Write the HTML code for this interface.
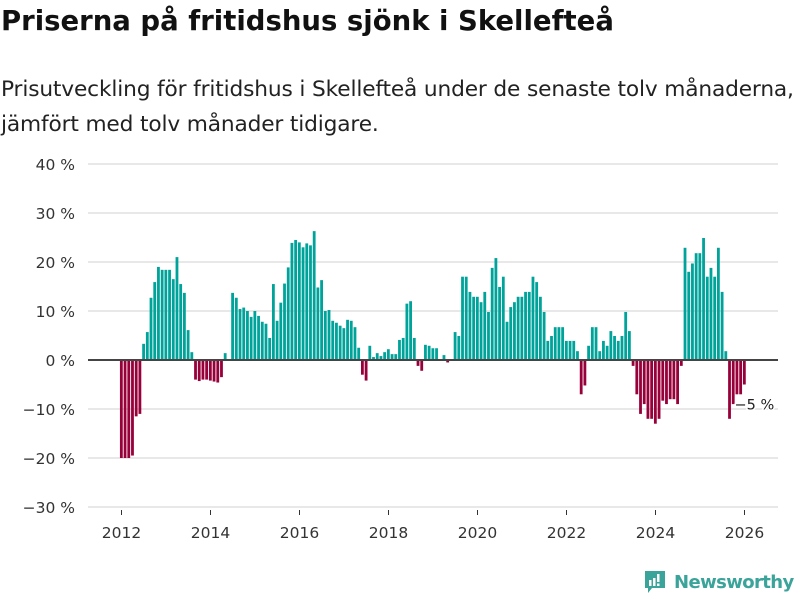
<!DOCTYPE html>
<html><head><meta charset="utf-8"><style>
body{margin:0;width:800px;height:600px;background:#fff;font-family:"DejaVu Sans","Liberation Sans",sans-serif;overflow:hidden;position:relative}
h1{position:absolute;left:1px;top:5px;margin:0;font-size:27.5px;font-weight:bold;color:#111;white-space:nowrap}
.sub{position:absolute;left:1px;top:72px;margin:0;font-size:21.7px;line-height:35px;color:#222;white-space:nowrap;letter-spacing:-0.15px}
svg{position:absolute;left:0;top:0}
</style></head><body>
<h1>Priserna på fritidshus sjönk i Skellefteå</h1>
<p class="sub">Prisutveckling för fritidshus i Skellefteå under de senaste tolv månaderna,<br>jämfört med tolv månader tidigare.</p>
<svg id="chart" width="800" height="600"></svg>
<script>
const startYear = 2012;
const values = [-20,-20,-20,-19.5,-11.5,-11,
3.3,5.7,12.7,15.9,19,18.4,18.4,18.4,16.5,21,15.5,13.7,6.1,1.6,
-4,-4.3,-4,-4,-4.2,-4.4,-4.6,-3.5,1.4,0.2,
13.7,12.7,10.4,10.7,10,8.8,10,9,7.8,7.4,4.5,15.5,8,11.7,15.6,18.9,23.9,24.5,24,23,23.8,23.4,26.3,14.8,16.3,10,10.2,8,7.6,7.0,
6.5,8.2,8,6.7,2.5,-3,-4.2,2.9,0.6,1.4,0.8,1.6,2.2,1.2,1.2,4.1,4.5,11.5,12,4.5,
-1.2,-2.2,3.1,2.9,2.4,2.4,0,1,-0.5,0.2,5.7,4.9,17,17,13.9,12.9,12.9,11.8,13.9,9.8,18.8,20.8,14.9,17,7.8,10.8,11.8,12.9,12.9,13.9,13.9,17,15.9,12.9,9.8,3.9,4.9,6.7,6.7,
6.7,3.9,3.9,3.9,1.8,-7,-5.2,2.9,6.7,6.7,1.8,3.9,2.9,5.9,4.9,3.9,4.9,9.8,5.9,
-1.2,-7,-11,-9,-12,-12,-13,-12,-8.3,-9,-8,-8,-9,-1.2,
22.9,18,19.7,21.8,21.8,24.9,17,18.8,17,22.9,13.9,1.8,-12,-9,-7,-7,-5];
const yTicks = [-30,-20,-10,0,10,20,30,40];
const xTicks = [2012,2014,2016,2018,2020,2022,2024,2026];
const lastLabel = "−5 %";

const NS="http://www.w3.org/2000/svg", svg=document.getElementById('chart');
const y = v => 360 - v*4.9;
const x = t => 121.5 + (t-2012)*44.5;
function mk(tag, attrs){const e=document.createElementNS(NS,tag);for(const k in attrs)e.setAttribute(k,attrs[k]);svg.appendChild(e);return e;}
yTicks.forEach(t=>{
  const l=mk('line',{x1:88,x2:778,y1:y(t),y2:y(t),stroke:'#e0e0e0','stroke-width':1.5});
  
  
  const tx=mk('text',{x:75,y:y(t)+6,'text-anchor':'end','font-size':15.5,fill:'#333'});
  tx.textContent=(t<0?'−'+(-t):t)+' %';
  
  
});
xTicks.forEach(t=>{
  const tx=mk('text',{x:x(t),y:538,'text-anchor':'middle','font-size':15.5,fill:'#333'});
  tx.textContent=t;
  
  
  const tk=mk('line',{x1:x(t),x2:x(t),y1:510,y2:515,stroke:'#333'});
  
  
});
const mw = 44.5/12;
values.forEach((v,i)=>{
  if(v===0) return;
  const cx = x(startYear + i/12);
  const r=mk('rect',{x:cx-mw/2+0.3,width:mw-0.9,y:Math.min(y(v),360),height:Math.abs(y(v)-360),fill:v>=0?'#00a39a':'#98003a'});
  
  
});
const z=mk('line',{x1:88,x2:778,y1:360,y2:360,stroke:'#444','stroke-width':2});


const lastX = x(startYear + (values.length-1)/12);
const lb=mk('text',{x:lastX-10,y:y(values[values.length-1])+25,'font-size':14.5,fill:'#222',stroke:'#fff','stroke-width':3,'paint-order':'stroke'});
lb.textContent=lastLabel;


</script>
<div style="position:absolute;left:644px;top:569px;display:flex;align-items:center;">
<svg width="22" height="26" viewBox="0 0 22 26" style="position:static"><path d="M1 2h20v17h-13l-4 5v-5h-3z" fill="#3aa39a"/><rect x="5" y="11" width="2.5" height="6" fill="#fff"/><rect x="9" y="9" width="2.5" height="8" fill="#fff"/><rect x="13" y="5" width="2.5" height="8" fill="#fff"/><rect x="13" y="14.5" width="2.5" height="2.5" fill="#fff"/></svg>
<span style="margin-left:8px;font-size:18px;color:#3aa39a;font-weight:bold;letter-spacing:-0.6px">Newsworthy</span></div>
</body></html>
